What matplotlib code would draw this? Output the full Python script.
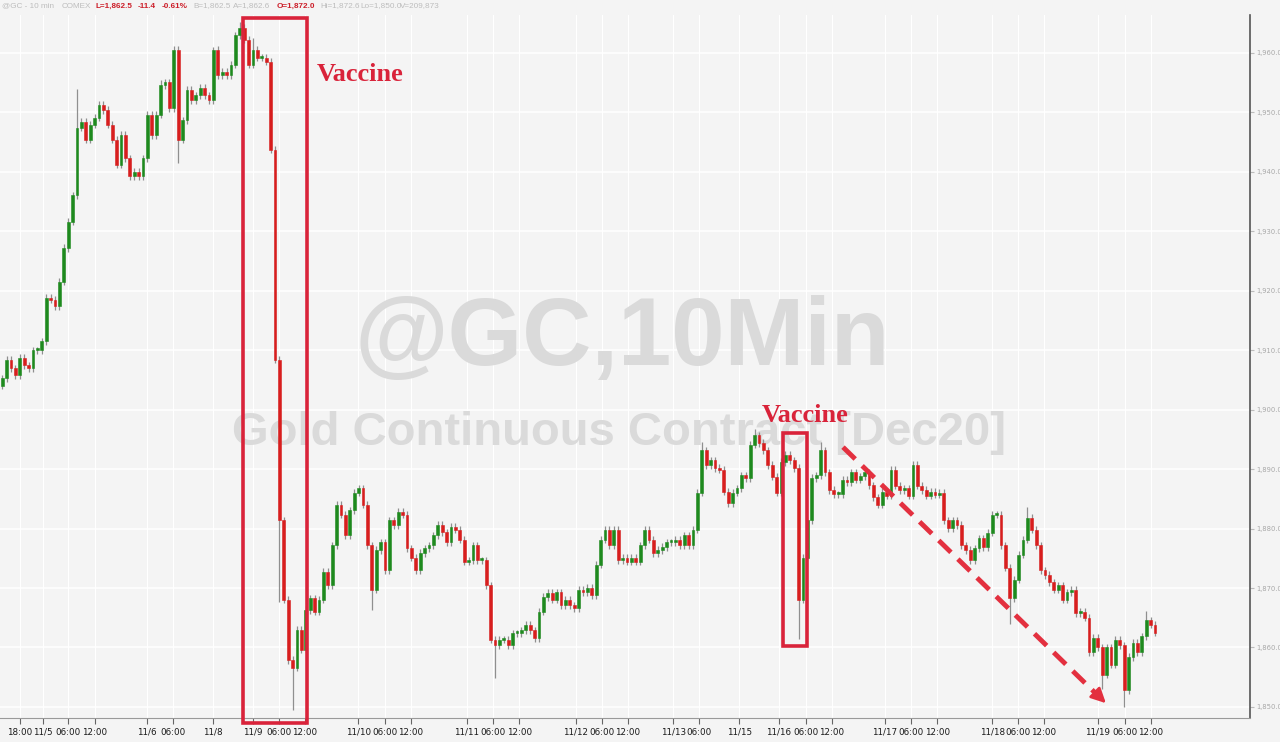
import numpy as np
import matplotlib.pyplot as plt
from matplotlib.patches import Rectangle

closes = [
    1905.3, 1908.4, 1907.0, 1905.8, 1908.7, 1907.5, 1907.0, 1910.0, 1910.0, 1911.5,
    1918.8, 1918.5, 1917.4, 1921.5, 1927.2, 1931.6, 1936.1, 1947.4, 1948.4, 1945.4,
    1947.9, 1949.1, 1951.3, 1950.4, 1947.9, 1945.4, 1941.2, 1946.2, 1942.3, 1939.3,
    1940.0, 1939.3, 1942.3, 1949.6, 1946.2, 1949.6, 1954.6, 1955.1, 1950.7, 1960.5,
    1945.4, 1948.7, 1953.8, 1952.1, 1952.9, 1954.1, 1952.9, 1952.1,
    # 11/8 sunday open
    1960.5, 1956.3, 1956.8, 1956.3, 1958.0, 1963.0, 1964.2,
    1962.2, 1958.0, 1960.5, 1959.2, 1959.2, 1958.5,
    # vaccine news
    1943.7, 1908.4, 1881.4, 1868.0, 1857.9, 1856.6, 1863.0, 1859.6, 1866.3,
    1868.3, 1866.0, 1868.0, 1872.7, 1870.5, 1877.2, 1884.0, 1882.3, 1878.9, 1883.1,
    1886.0, 1886.8, 1884.0, 1877.2, 1869.7, 1876.4, 1877.7, 1873.0, 1881.4, 1880.6,
    1882.8, 1882.3, 1876.7, 1875.1, 1873.0, 1875.9, 1876.7, 1877.2, 1878.9, 1880.6,
    1879.4, 1877.7, 1880.3, 1879.8, 1878.1, 1874.4, 1874.7, 1877.2, 1874.7, 1874.7,
    1870.5, 1861.3, 1860.4, 1861.3, 1861.3, 1860.4, 1862.4, 1862.4, 1862.9, 1863.8,
    1862.9, 1861.6, 1866.0, 1868.5, 1869.2, 1868.0, 1869.3, 1867.1, 1868.0, 1867.1,
    1866.6, 1869.7, 1869.3, 1870.0, 1868.8, 1873.9, 1878.1, 1879.8, 1877.2, 1879.8,
    1874.7, 1875.1, 1874.4, 1875.1, 1874.4, 1877.2, 1879.8, 1878.1, 1875.9, 1876.4,
    1876.9, 1877.7, 1877.7, 1878.1, 1877.2, 1878.9, 1877.2, 1879.8, 1886.0, 1893.2,
    1890.7, 1891.5, 1890.2, 1889.9, 1886.2, 1884.3, 1886.0, 1886.8, 1889.0, 1888.5,
    1894.1, 1895.7, 1894.4, 1893.2, 1890.7, 1888.7, 1886.0, 1891.2, 1892.4, 1891.5,
    # second vaccine headline
    1890.2, 1868.0, 1875.1, 1881.4, 1888.5, 1889.0, 1893.2, 1889.5, 1886.5, 1885.8,
    1885.8, 1888.2, 1887.8, 1889.5, 1888.2, 1888.8, 1889.5, 1887.3, 1885.3, 1884.0,
    1886.2, 1885.5, 1889.9, 1887.2, 1886.5, 1886.8, 1885.5, 1890.7, 1887.2, 1886.5,
    1885.5, 1886.2, 1885.7, 1886.0, 1881.4, 1880.1, 1881.4, 1880.6, 1877.2, 1876.4,
    1874.7, 1876.7, 1878.4, 1876.9, 1879.3, 1882.3, 1882.3, 1877.2, 1873.4, 1868.3,
    1871.4, 1875.6, 1878.1, 1881.8, 1879.8, 1877.2, 1873.0, 1872.2, 1871.0, 1869.7,
    1870.5, 1868.0, 1869.3, 1869.7, 1865.8, 1866.0, 1865.0, 1859.2, 1861.6, 1860.0,
    1855.4, 1860.0, 1857.1, 1861.3, 1860.4, 1852.8, 1858.4, 1860.8, 1859.2, 1861.9,
    1864.6, 1863.8, 1862.5,
]
first_open = 1904.0

# long shadows visible on the chart
wick_high = {17: 1954.0, 36: 1955.5, 39: 1961.2, 48: 1961.0, 54: 1965.2, 57: 1962.6,
             159: 1894.5, 171: 1896.8, 186: 1894.6, 233: 1883.6, 260: 1866.2}
wick_low = {40: 1941.5, 63: 1867.7, 66: 1849.5, 84: 1866.3, 112: 1854.8,
            181: 1861.5, 229: 1864.0, 250: 1853.0, 255: 1850.0}

tick_pos = [4.05, 9.3, 15, 21.1, 32.9, 38.8, 47.9, 57, 62.9, 68.8, 80.9, 87, 92.9,
            105.6, 111.5, 117.5, 130.4, 136.3, 142.2, 152.5, 158.4, 167.5, 176.5,
            182.7, 188.6, 200.6, 206.5, 212.5, 225, 230.9, 236.8, 249, 255.2, 261.1]
tick_labels = ['18:00', '11/5', '06:00', '12:00', '11/6', '06:00', '11/8', '11/9',
               '06:00', '12:00', '11/10', '06:00', '12:00', '11/11', '06:00', '12:00',
               '11/12', '06:00', '12:00', '11/13', '06:00', '11/15', '11/16', '06:00',
               '12:00', '11/17', '06:00', '12:00', '11/18', '06:00', '12:00', '11/19',
               '06:00', '12:00']
price_ticks = [1850, 1860, 1870, 1880, 1890, 1900, 1910, 1920, 1930, 1940, 1950, 1960]

header = [('@GC - 10 min', 2, 'grey'), ('COMEX', 62, 'grey'), ('L=1,862.5', 96, 'red'),
          ('-11.4', 138, 'red'), ('-0.61%', 162, 'red'), ('B=1,862.5', 193, 'grey'),
          ('A=1,862.6', 233, 'grey'), ('O=1,872.0', 277, 'red'), ('Hi=1,872.6', 320, 'grey'),
          ('Lo=1,850.0', 360, 'grey'), ('V=209,873', 400, 'grey')]

BG = '#f4f4f4'
UP = '#1e8a1e'
DOWN = '#d81e1e'
RED = '#d9233a'

closes = np.array(closes)
opens = np.concatenate([[first_open], closes[:-1]])
x = np.arange(len(closes))
highs = np.maximum(opens, closes) + 0.6
lows = np.minimum(opens, closes) - 0.6
for k, v in wick_high.items():
    highs[k] = v
for k, v in wick_low.items():
    lows[k] = v

fig = plt.figure(figsize=(12.8, 7.42), dpi=100, facecolor=BG)
W, H = 1280, 742
ax = fig.add_axes([0, 24 / H, 1250 / W, (718 - 15) / H])
ax.set_facecolor(BG)

colors = np.where(closes >= opens, UP, DOWN)
ax.vlines(x, lows, highs, color='#8f8f8f', lw=0.9, zorder=2)
body = np.maximum(np.abs(closes - opens), 0.3)
ax.bar(x, body, bottom=np.minimum(opens, closes), width=0.62, color=colors,
       edgecolor=colors, linewidth=0.4, zorder=3)

ax.set_xlim(-0.5, 283.6)
ax.set_ylim(1848.14, 1966.39)
ax.set_xticks(tick_pos)
ax.set_xticklabels(tick_labels)
ax.set_yticks(price_ticks)
ax.set_yticklabels([f'{v:,.1f}' for v in price_ticks])
ax.yaxis.tick_right()
ax.tick_params(axis='x', length=4, color='#666666', labelsize=6.3, labelcolor='#1a1a1a', pad=3)
ax.tick_params(axis='y', length=3, color='#bbbbbb', labelsize=4.9, labelcolor='#a8a8a8', pad=1.5)
ax.set_axisbelow(True)
ax.grid(True, axis='y', color='white', lw=1.1)
ax.grid(True, axis='x', color='white', lw=0.8)
for s in ['left', 'top']:
    ax.spines[s].set_visible(False)
ax.spines['right'].set_color('#555555')
ax.spines['right'].set_linewidth(1.2)
ax.spines['bottom'].set_color('#999999')

# watermark
ax.text(622 / W, 1 - 340 / H, '@GC,10Min', transform=fig.transFigure, ha='center',
        va='center', fontsize=69, fontweight='bold', color='#dadada',
        family='Liberation Sans', zorder=1)
ax.text(619 / W, 1 - 433 / H, 'Gold Continuous Contract [Dec20]', transform=fig.transFigure,
        ha='center', va='center', fontsize=34, fontweight='bold', color='#dadada',
        family='Liberation Sans', zorder=1)

# annotations
ax.add_patch(Rectangle((54.7, 1847.3), 14.6, 118.6, fill=False, ec=RED, lw=2.6,
                       clip_on=False, zorder=5))
ax.add_patch(Rectangle((177.5, 1860.25), 5.4, 35.85, fill=False, ec=RED, lw=2.6,
                       clip_on=False, zorder=5))
ax.text(71.5, 1956.3, 'Vaccine', family='Liberation Serif', fontweight='bold',
        fontsize=19, color=RED, va='center', zorder=6)
ax.text(172.7, 1899.1, 'Vaccine', family='Liberation Serif', fontweight='bold',
        fontsize=19, color=RED, va='center', zorder=6)
ax.plot([191.1, 248.5], [1893.7, 1852.3], color='#e3303f', lw=3.5,
        dashes=(3.5, 2), zorder=6)
ax.annotate('', xy=(251.3, 1850.3), xytext=(248.0, 1852.7),
            arrowprops=dict(arrowstyle='-|>', color='#e3303f', lw=2,
                            mutation_scale=22), zorder=6)

# header line
for txt, px, c in header:
    fig.text(px / W, 1 - 6 / H, txt, fontsize=5.9, va='center', ha='left',
             family='Liberation Sans',
             fontweight='bold' if c == 'red' else 'normal',
             color='#cc1f2a' if c == 'red' else '#bdbdbd')

fig.savefig('out.png', dpi=100, facecolor=BG)
